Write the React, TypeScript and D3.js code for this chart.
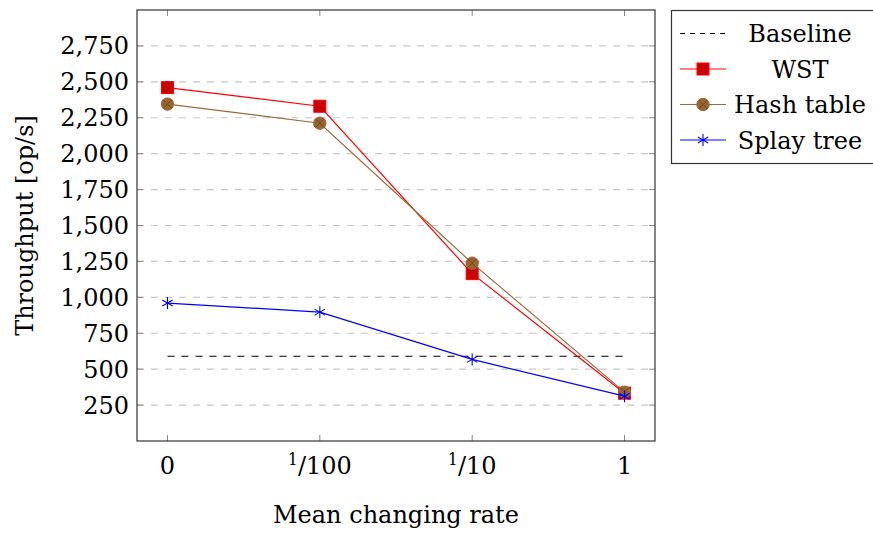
import { useEffect, useRef } from "react";
import * as d3 from "d3";

const categories = ["0", "1/100", "1/10", "1"];
const wst = [2460, 2330, 1165, 333];
const hashTable = [2345, 2212, 1238, 340];
const splayTree = [960, 897, 568, 312];
const baseline = [590, 590, 590, 590];
const yTicks = [250, 500, 750, 1000, 1250, 1500, 1750, 2000, 2250, 2500, 2750];

const W = 873;
const H = 533;
const FONT = "'DejaVu Serif', serif";

export default function App() {
  const ref = useRef<SVGSVGElement | null>(null);

  useEffect(() => {
    if (!ref.current) return;
    const svg = d3.select(ref.current);
    svg.selectAll("*").remove();

    const left = 137, right = 655, top = 10, bottom = 441;

    const x = d3.scaleLinear().domain([-0.2, 3.2]).range([left, right]);
    const y = d3.scaleLinear().domain([0, 3000]).range([bottom, top]);

    const g = svg.append("g");

    // grid
    g.selectAll("line.grid")
      .data(yTicks)
      .join("line")
      .attr("x1", left)
      .attr("x2", right)
      .attr("y1", (d) => y(d))
      .attr("y2", (d) => y(d))
      .attr("stroke", "#c8c8c8")
      .attr("stroke-width", 1.2)
      .attr("stroke-dasharray", "7,7");

    // tick marks (inside, all four sides)
    const tk = 6;
    yTicks.forEach((t) => {
      g.append("line").attr("x1", left).attr("x2", left + tk).attr("y1", y(t)).attr("y2", y(t))
        .attr("stroke", "#888").attr("stroke-width", 1);
      g.append("line").attr("x1", right - tk).attr("x2", right).attr("y1", y(t)).attr("y2", y(t))
        .attr("stroke", "#888").attr("stroke-width", 1);
    });
    categories.forEach((_, i) => {
      g.append("line").attr("x1", x(i)).attr("x2", x(i)).attr("y1", bottom).attr("y2", bottom - tk)
        .attr("stroke", "#888").attr("stroke-width", 1);
      g.append("line").attr("x1", x(i)).attr("x2", x(i)).attr("y1", top).attr("y2", top + tk)
        .attr("stroke", "#888").attr("stroke-width", 1);
    });

    // axis box
    g.append("rect")
      .attr("x", left).attr("y", top)
      .attr("width", right - left).attr("height", bottom - top)
      .attr("fill", "none").attr("stroke", "#333").attr("stroke-width", 1.2);

    // y tick labels
    const fmt = d3.format(",");
    g.selectAll("text.ytick")
      .data(yTicks)
      .join("text")
      .attr("x", left - 8)
      .attr("y", (d) => y(d) + 8.5)
      .attr("text-anchor", "end")
      .attr("font-family", FONT)
      .attr("font-size", 24)
      .text((d) => fmt(d));

    // x tick labels
    categories.forEach((c, i) => {
      const t = g.append("text")
        .attr("x", x(i))
        .attr("y", 474)
        .attr("text-anchor", "middle")
        .attr("font-family", FONT)
        .attr("font-size", 24);
      if (c.includes("/")) {
        const [num, den] = c.split("/");
        t.append("tspan").attr("font-size", 16).attr("dy", -9).text(num);
        t.append("tspan").attr("dy", 9).text("/" + den);
      } else {
        t.text(c);
      }
    });

    // axis labels
    g.append("text")
      .attr("x", (left + right) / 2)
      .attr("y", 523)
      .attr("text-anchor", "middle")
      .attr("font-family", FONT)
      .attr("font-size", 24)
      .text("Mean changing rate");
    g.append("text")
      .attr("transform", `translate(33,${(top + bottom) / 2}) rotate(-90)`)
      .attr("text-anchor", "middle")
      .attr("font-family", FONT)
      .attr("font-size", 24)
      .text("Throughput [op/s]");

    const line = d3.line<number>().x((_, i) => x(i)).y((d) => y(d));

    // baseline
    g.append("path").attr("d", line(baseline)).attr("fill", "none")
      .attr("stroke", "#000").attr("stroke-width", 1.2).attr("stroke-dasharray", "7,7");

    const brown = "#9c6a38";
    const brownFill = "#99662f";

    const drawSquare = (sel: any, cx: number, cy: number) => {
      sel.append("rect").attr("x", cx - 6).attr("y", cy - 6).attr("width", 12).attr("height", 12)
        .attr("fill", "#cc0000").attr("stroke", "#ff0000").attr("stroke-width", 1);
    };
    const drawOtimes = (sel: any, cx: number, cy: number) => {
      sel.append("circle").attr("cx", cx).attr("cy", cy).attr("r", 6.2)
        .attr("fill", brownFill).attr("stroke", brown).attr("stroke-width", 1);
      const r = 4.4;
      sel.append("path")
        .attr("d", `M${cx - r},${cy - r}L${cx + r},${cy + r}M${cx - r},${cy + r}L${cx + r},${cy - r}`)
        .attr("stroke", "#6b4520").attr("stroke-width", 0.9);
    };
    const drawStar = (sel: any, cx: number, cy: number) => {
      const r = 6;
      let d = "";
      [90, 30, 150].forEach((a) => {
        const dx = r * Math.cos((a * Math.PI) / 180);
        const dy = r * Math.sin((a * Math.PI) / 180);
        d += `M${cx - dx},${cy - dy}L${cx + dx},${cy + dy}`;
      });
      sel.append("path").attr("d", d).attr("stroke", "#0000ff").attr("stroke-width", 1.1);
    };

    const series = [
      { name: "WST", data: wst, color: "#ff0000", mark: drawSquare },
      { name: "Hash table", data: hashTable, color: brown, mark: drawOtimes },
      { name: "Splay tree", data: splayTree, color: "#0000ff", mark: drawStar },
    ];

    series.forEach((s) => {
      g.append("path").attr("d", line(s.data)).attr("fill", "none")
        .attr("stroke", s.color).attr("stroke-width", 1.2);
      s.data.forEach((v, i) => s.mark(g, x(i), y(v)));
    });

    // legend
    const lg = svg.append("g");
    lg.append("rect").attr("x", 671.5).attr("y", 10.5).attr("width", 240).attr("height", 153)
      .attr("fill", "#fff").attr("stroke", "#333").attr("stroke-width", 1.2);
    const entries = [
      { name: "Baseline", color: "#000", dash: "5,5", mark: null as any },
      ...series.map((s) => ({ name: s.name, color: s.color, dash: null as any, mark: s.mark })),
    ];
    entries.forEach((e, i) => {
      const cy = 33.5 + i * 35.5;
      const l = lg.append("line").attr("x1", 680).attr("x2", 726).attr("y1", cy).attr("y2", cy)
        .attr("stroke", e.color).attr("stroke-width", 1.2);
      if (e.dash) l.attr("stroke-dasharray", e.dash);
      if (e.mark) e.mark(lg, 703, cy);
      lg.append("text")
        .attr("x", 800)
        .attr("y", cy + 8.5)
        .attr("text-anchor", "middle")
        .attr("font-family", FONT)
        .attr("font-size", 24)
        .text(e.name);
    });
  }, []);

  return (
    <div style={{ position: "absolute", left: 0, top: 0 }}>
      <svg ref={ref} width={W} height={H} style={{ display: "block", background: "#fff" }} />
    </div>
  );
}
